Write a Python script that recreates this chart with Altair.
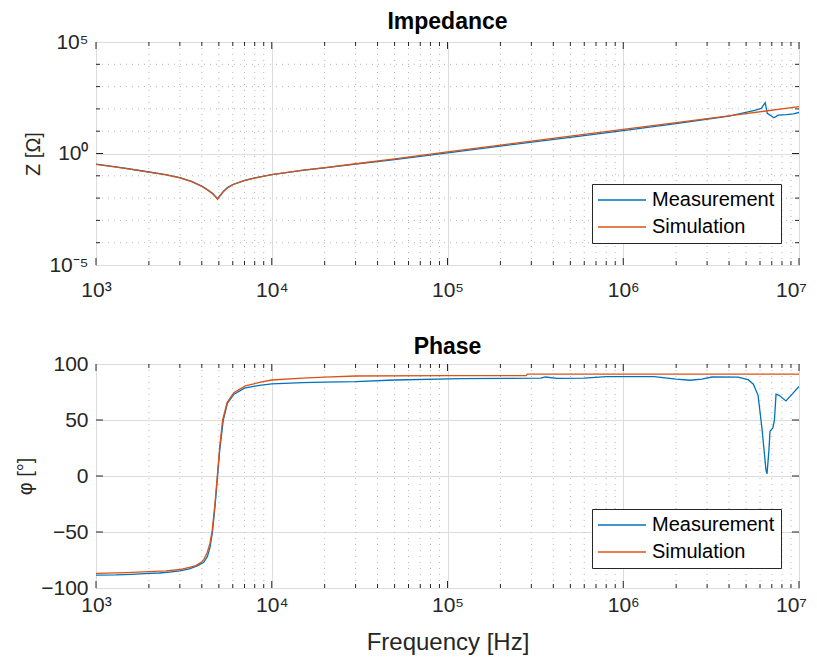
import altair as alt
import pandas as pd

FONT = "Liberation Sans"
BLUE = "#0072BD"
ORANGE = "#D95319"
AX = "#262626"

# ---------------- data ----------------
series_names = ["Measurement", "Simulation"]

# Impedance |Z| [Ohm]
zsim_f = [1000, 1500, 2000, 2500, 3000, 3500, 4000, 4300, 4600, 4800, 4920, 5050,
          5300, 5600, 6000, 7000, 8000, 10000, 15000, 20000, 30000, 50000,
          1e5, 2e5, 5e5, 1e6, 2e6, 5e6, 1e7]
zsim_v = [0.324, 0.209, 0.145, 0.110, 0.0813, 0.0550, 0.0331, 0.0234, 0.0158, 0.0112,
          0.00871, 0.0117, 0.0191, 0.0282, 0.0398, 0.0603, 0.0794, 0.112, 0.178, 0.234,
          0.347, 0.575, 1.17, 2.40, 6.03, 12.0, 24.5, 61.7, 126]

zmeas_f = [1000, 1300, 1700, 2000, 2500, 3000, 3500, 4000, 4300, 4600, 4800, 4920,
           5050, 5300, 5600, 6000, 7000, 8000, 10000, 15000, 20000, 30000, 50000,
           70000, 1e5, 2e5, 5e5, 1e6, 2e6, 4e6, 5.6e6, 6.1e6, 6.42e6, 6.6e6, 7.2e6,
           7.6e6, 8.5e6, 9.3e6, 1e7]
zmeas_v = [0.331, 0.251, 0.182, 0.148, 0.112, 0.0832, 0.0562, 0.0347, 0.0245, 0.0166,
           0.0117, 0.00933, 0.0126, 0.0200, 0.0295, 0.0407, 0.0617, 0.0813, 0.112,
           0.174, 0.229, 0.331, 0.537, 0.741, 1.07, 2.14, 5.25, 10.5, 21.9, 47.9,
           85.1, 105, 191, 63.1, 39.8, 52.5, 55.0, 60.3, 69.2]

# Phase [deg]
psim_f = [1000, 1500, 2000, 2500, 3000, 3400, 3700, 4000, 4110, 4300, 4450, 4580,
          4750, 4900, 5050, 5250, 5570, 6080, 7080, 8500, 10000, 15000, 20000, 30000,
          1e5, 2.8e5, 2.85e5, 1e7]
psim_v = [-87.0, -86.3, -85.4, -84.7, -83.5, -81.5, -80.0, -76.5, -74.4, -68.0, -60.0,
          -49.0, -25.0, 0.0, 25.0, 50.0, 65.5, 74.4, 80.4, 83.5, 85.7, 87.3, 88.2, 89.3,
          89.6, 89.6, 91.0, 91.0]

pmeas_f = [1000, 1300, 1600, 2000, 2300, 2700, 3000, 3400, 3800, 4100, 4300, 4450,
           4600, 4750, 4900, 5050, 5300, 5600, 6100, 7000, 8500, 10000, 15000, 20000,
           30000, 50000, 1.2e5, 3.4e5, 3.6e5, 4.2e5, 6e5, 8e5, 1.5e6, 2e6, 2.4e6,
           2.8e6, 3.2e6, 4.5e6, 5.13e6, 5.5e6, 5.85e6, 6.16e6, 6.49e6, 6.58e6, 6.75e6,
           6.84e6, 7.1e6, 7.25e6, 7.4e6, 7.7e6, 8.43e6, 9.25e6, 1e7]
pmeas_v = [-88.5, -88.3, -87.8, -87.0, -86.6, -85.6, -84.8, -83.0, -80.0, -77.0, -72.0,
           -64.0, -50.0, -28.0, -3.0, 22.0, 50.0, 65.0, 73.0, 78.5, 81.0, 82.3, 83.4,
           83.9, 84.2, 85.7, 87.0, 87.3, 88.4, 87.2, 87.3, 88.7, 88.8, 86.5, 85.5,
           86.5, 88.4, 88.2, 86.0, 82.0, 72.0, 42.0, 5.0, 2.0, 24.0, 40.0, 43.0, 50.0,
           73.0, 72.0, 67.0, 74.0, 80.0]

# axes / ticks
x_major = [1e3, 1e4, 1e5, 1e6, 1e7]
x_minor = [m * d for d in [1e3, 1e4, 1e5, 1e6] for m in range(2, 10)]
x_exponents = [3, 4, 5, 6, 7]
z_major = [1e-5, 1, 1e5]
z_exponents = [-5, 0, 5]
z_minor = [1e-4, 1e-3, 1e-2, 1e-1, 1e1, 1e2, 1e3, 1e4]
p_major = [-100, -50, 0, 50, 100]

SUP = {"-": "\u207b", "0": "\u2070", "1": "\u00b9", "2": "\u00b2", "3": "\u00b3",
       "4": "\u2074", "5": "\u2075", "6": "\u2076", "7": "\u2077", "8": "\u2078",
       "9": "\u2079"}


def sup_expr(exps):
    parts = []
    for e in exps:
        lab = "10" + "".join(SUP[c] for c in str(e))
        parts.append(f"round(log(datum.value)/LN10) == {e} ? '{lab}'")
    return " : ".join(parts) + " : ''"


W = 703
H1 = 223
H2 = 224
MAJ = 7
MIN = 4
TICK_FS = 21

xscale = alt.Scale(type="log", domain=[1e3, 1e7], nice=False)


def legend(ly):
    return alt.Legend(
        orient="none", legendX=496, legendY=ly, title=None,
        fillColor="white", strokeColor=AX, padding=6, cornerRadius=0,
        symbolType="M-4,0H4", symbolSize=144, symbolStrokeWidth=1.5,
        symbolOffset=14, labelOffset=20,
        labelFontSize=20, labelFont=FONT, labelColor="#000000",
        rowPadding=7,
    )


def xaxis(with_title, pad):
    kw = dict(values=x_major, labelExpr=sup_expr(x_exponents), grid=True,
              gridColor="#dcdcdc", gridWidth=1, domain=False, ticks=False,
              labelFont=FONT, labelFontSize=TICK_FS, labelColor=AX, labelPadding=pad,
              labelFlush=False,
              labelOffset={"condition": {"test": "datum.value > 5000000", "value": -8},
                           "value": 0})
    if with_title:
        kw.update(title="Frequency [Hz]", titleFont=FONT, titleFontSize=24,
                  titleFontWeight="normal", titleColor=AX, titlePadding=15)
    else:
        kw.update(title="")
    return alt.Axis(**kw)


def yaxis(values, title_text, expr=None):
    kw = dict(values=values, grid=True, gridColor="#dcdcdc", domain=False, ticks=False,
              labelFont=FONT, labelFontSize=TICK_FS, labelColor=AX, labelPadding=8,
              labelFlush=False, title=title_text, titleFont=FONT, titleFontSize=20,
              titleFontWeight="normal", titleColor=AX, titlePadding=5)
    if expr:
        kw["labelExpr"] = expr
    return alt.Axis(**kw)


def minor_rules(values, field):
    df = pd.DataFrame({field: values})
    base = alt.Chart(df).mark_rule(color="#b8b8b8", strokeDash=[1, 5], strokeWidth=1)
    if field == "f":
        return base.encode(x=alt.X("f:Q", scale=xscale))
    return base.encode(y=alt.Y(f"{field}:Q"))


def xticks(values, length, h):
    df = pd.DataFrame({"f": values})
    base = alt.Chart(df).mark_rule(color=AX, strokeWidth=1)
    top = base.encode(x=alt.X("f:Q", scale=xscale), y=alt.value(0), y2=alt.value(length))
    bot = base.encode(x=alt.X("f:Q", scale=xscale), y=alt.value(h), y2=alt.value(h - length))
    return [top, bot]


def yticks(values, field, length):
    df = pd.DataFrame({field: values})
    base = alt.Chart(df).mark_rule(color=AX, strokeWidth=1)
    left = base.encode(y=alt.Y(f"{field}:Q"), x=alt.value(0), x2=alt.value(length))
    right = base.encode(y=alt.Y(f"{field}:Q"), x=alt.value(W), x2=alt.value(W - length))
    return [left, right]


def title(text, off):
    return alt.TitleParams(text, font=FONT, fontSize=23, fontWeight="bold",
                           color="#000000", anchor="middle", offset=off)


# ---------------- impedance panel ----------------
zdf = pd.concat([
    pd.DataFrame({"f": zmeas_f, "z": zmeas_v, "series": series_names[0]}),
    pd.DataFrame({"f": zsim_f, "z": zsim_v, "series": series_names[1]}),
])
zline = alt.Chart(zdf).mark_line(strokeWidth=1.3, clip=True).encode(
    x=alt.X("f:Q", scale=xscale, axis=xaxis(False, 14)),
    y=alt.Y("z:Q", scale=alt.Scale(type="log", domain=[1e-5, 1e5], nice=False),
            axis=yaxis(z_major, "Z [\u03a9]", sup_expr(z_exponents))),
    color=alt.Color("series:N", scale=alt.Scale(domain=series_names, range=[BLUE, ORANGE]),
                    legend=legend(142)),
    order=alt.Order("f:Q"),
)
top = alt.layer(
    minor_rules(x_minor, "f"),
    minor_rules(z_minor, "z"),
    zline,
    *xticks(x_major, MAJ, H1),
    *xticks(x_minor, MIN, H1),
    *yticks([1], "z", MAJ),
    *yticks(z_minor, "z", MIN),
).properties(width=W, height=H1, title=title("Impedance", -3))

# ---------------- phase panel ----------------
pdf = pd.concat([
    pd.DataFrame({"f": pmeas_f, "p": pmeas_v, "series": series_names[0]}),
    pd.DataFrame({"f": psim_f, "p": psim_v, "series": series_names[1]}),
])
pline = alt.Chart(pdf).mark_line(strokeWidth=1.3, clip=True).encode(
    x=alt.X("f:Q", scale=xscale, axis=xaxis(True, 6)),
    y=alt.Y("p:Q", scale=alt.Scale(domain=[-100, 100], nice=False),
            axis=yaxis(p_major, "\u03c6 [\u00b0]")),
    color=alt.Color("series:N", scale=alt.Scale(domain=series_names, range=[BLUE, ORANGE]),
                    legend=legend(145)),
    order=alt.Order("f:Q"),
)
bottom = alt.layer(
    minor_rules(x_minor, "f"),
    pline,
    *xticks(x_major, MAJ, H2),
    *xticks(x_minor, MIN, H2),
    *yticks([-50, 0, 50], "p", MAJ),
).properties(width=W, height=H2, title=title("Phase", -6))

chart = alt.vconcat(top, bottom, spacing=99, bounds="flush").resolve_scale(
    color="independent", y="independent"
).properties(
    padding={"left": 7, "top": 2, "right": 0, "bottom": 0},
    background="white",
).configure_view(stroke=AX, strokeWidth=1)

chart.save("out.html", embed_options={"renderer": "svg", "actions": False})
